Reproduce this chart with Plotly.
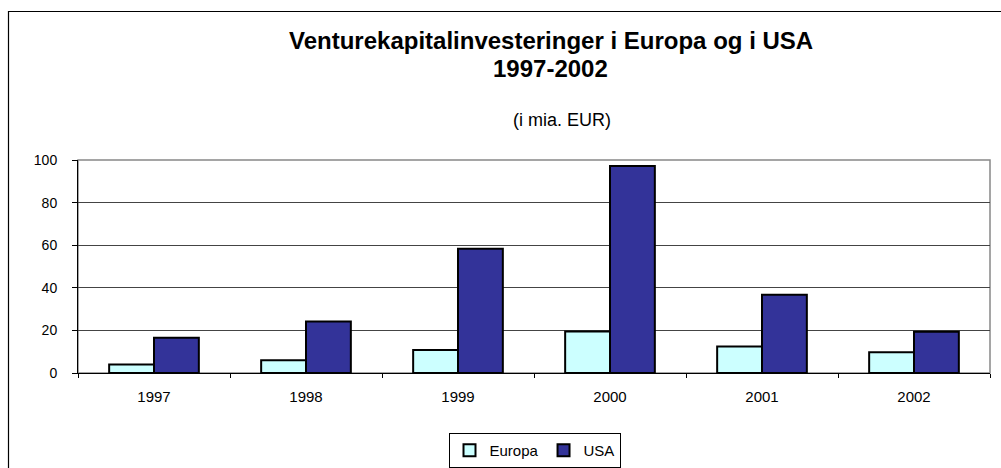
import plotly.graph_objects as go

years = ["1997", "1998", "1999", "2000", "2001", "2002"]
europa = [4, 6, 10.8, 19.5, 12.5, 9.8]
usa = [16.5, 24.2, 58.3, 97.2, 36.7, 19.4]
y_ticks = [0, 20, 40, 60, 80, 100]

W, H = 1001, 468
ML, MR, MT, MB = 78, 11, 160, 95
PW, PH = W - ML - MR, H - MT - MB

def px_x(p):
    return (p - ML) / PW

def px_y(p):
    return (H - MB - p) / PH

fig = go.Figure()
fig.add_trace(go.Bar(name="Europa", x=years, y=europa,
                     marker=dict(color="#CCFFFF", line=dict(color="#000000", width=2))))
fig.add_trace(go.Bar(name="USA", x=years, y=usa,
                     marker=dict(color="#333399", line=dict(color="#000000", width=2))))

font = "Liberation Sans, Arial, sans-serif"
fig.update_layout(
    width=W, height=H,
    margin=dict(l=ML, r=MR, t=MT, b=MB),
    paper_bgcolor="white", plot_bgcolor="white",
    barmode="group", bargap=0.41, bargroupgap=0,
    font=dict(family=font, size=14, color="#000"),
    showlegend=True,
    legend=dict(orientation="h", xref="container", yref="container",
                x=534.5 / W, xanchor="center", y=(H - 468) / H, yanchor="bottom",
                bordercolor="#000", borderwidth=1, bgcolor="white",
                font=dict(size=15, family=font), traceorder="normal",
                itemwidth=30),
    xaxis=dict(showline=True, linecolor="#000", linewidth=1, ticks="outside",
               tickson="boundaries", ticklen=4, tickcolor="#000",
               ticklabelstandoff=10, showgrid=False, zeroline=False, automargin=False,
               tickfont=dict(size=15, family=font)),
    yaxis=dict(range=[0, 100], tickvals=y_ticks, showline=True, linecolor="#000",
               linewidth=1, ticks="outside", ticklen=5, tickcolor="#000",
               ticklabelstandoff=12, showgrid=True, gridcolor="#444", gridwidth=1,
               zeroline=False, automargin=False, tickfont=dict(size=14, family=font)),
    shapes=[
        dict(type="rect", xref="paper", yref="paper", x0=0, x1=1, y0=0, y1=1,
             line=dict(color="#888", width=1.5), layer="below"),
        dict(type="rect", xref="paper", yref="paper", x0=px_x(8.5), x1=px_x(1010),
             y0=px_y(480), y1=px_y(11.5), line=dict(color="#000", width=1.2),
             layer="below"),
    ],
    annotations=[
        dict(text="<b>Venturekapitalinvesteringer i Europa og i USA</b>", xref="paper",
             yref="paper", x=px_x(551), y=px_y(40), showarrow=False,
             xanchor="center", yanchor="middle", font=dict(size=24, family=font)),
        dict(text="<b>1997-2002</b>", xref="paper", yref="paper", x=px_x(550.5),
             y=px_y(68), showarrow=False, xanchor="center", yanchor="middle",
             font=dict(size=24, family=font)),
        dict(text="(i mia. EUR)", xref="paper", yref="paper", x=px_x(562),
             y=px_y(120), showarrow=False, xanchor="center", yanchor="middle",
             font=dict(size=18, family=font)),
    ],
)

fig.write_html("out.html", config={"displayModeBar": False},
               post_script="document.body.style.margin='0';document.body.style.overflow='hidden';")
